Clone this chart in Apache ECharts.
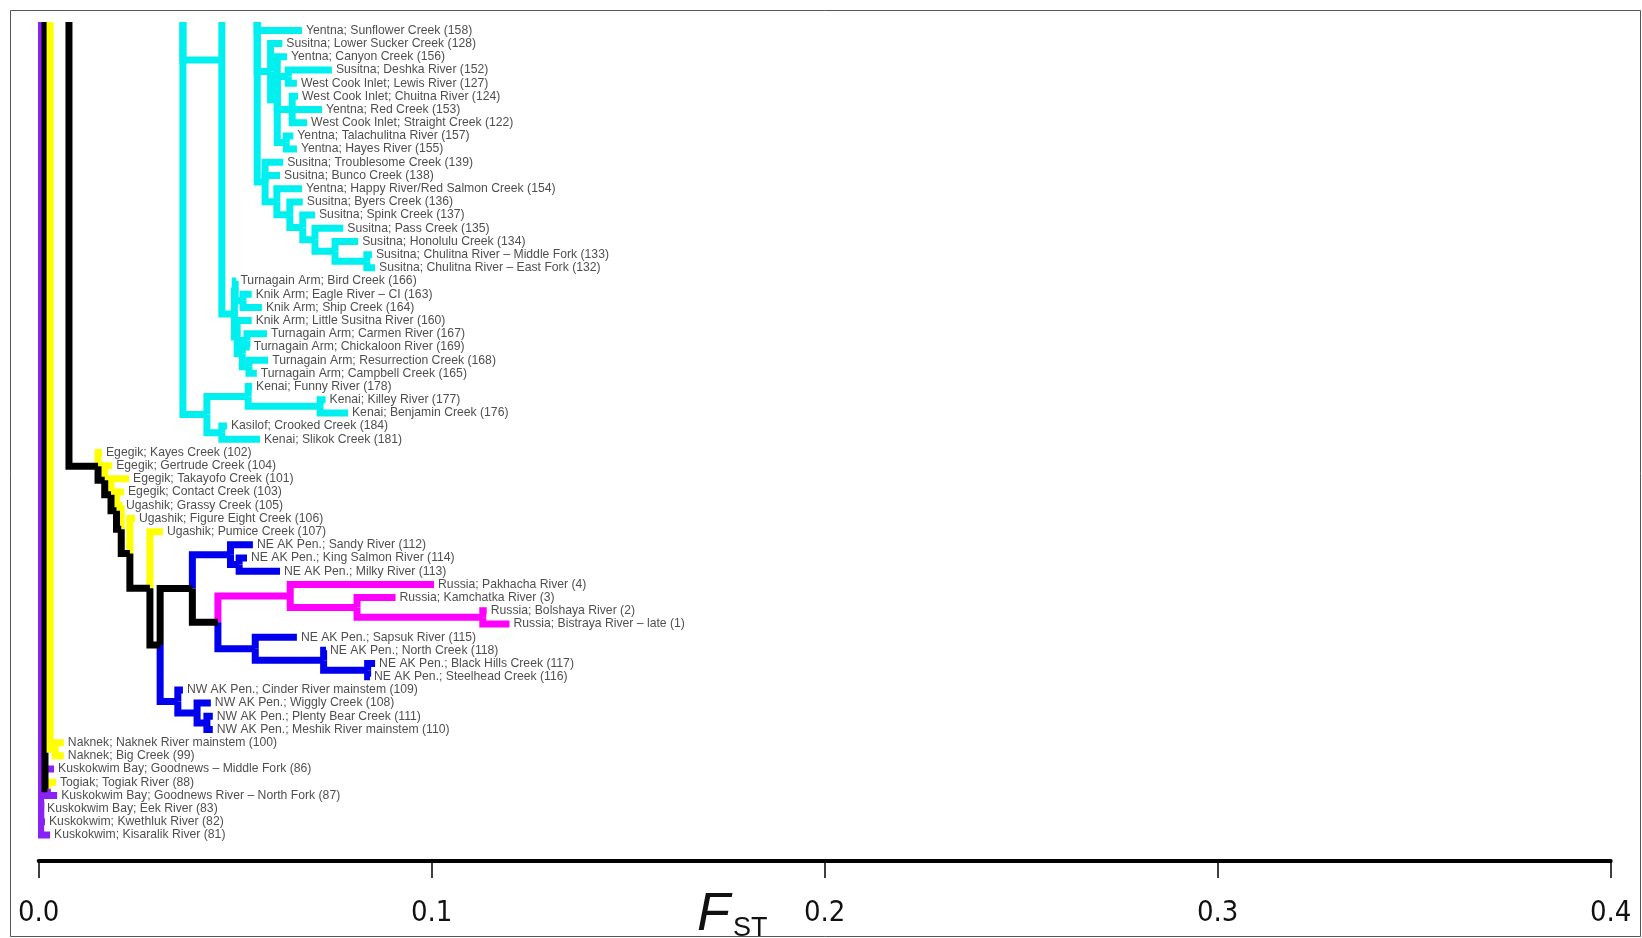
<!DOCTYPE html>
<html>
<head>
<meta charset="utf-8">
<script src="https://cdn.jsdelivr.net/npm/echarts@6/dist/echarts.min.js"></script>
<style>
  html, body { margin: 0; padding: 0; background: #fff; }
  #chart { width: 1642px; height: 938px; }
</style>
</head>
<body>
<div id="chart"></div>
<script>
// Populations, top to bottom
const leafNames = [
  'Yentna; Sunflower Creek (158)',
  'Susitna; Lower Sucker Creek (128)',
  'Yentna; Canyon Creek (156)',
  'Susitna; Deshka River (152)',
  'West Cook Inlet; Lewis River (127)',
  'West Cook Inlet; Chuitna River (124)',
  'Yentna; Red Creek (153)',
  'West Cook Inlet; Straight Creek (122)',
  'Yentna; Talachulitna River (157)',
  'Yentna; Hayes River (155)',
  'Susitna; Troublesome Creek (139)',
  'Susitna; Bunco Creek (138)',
  'Yentna; Happy River/Red Salmon Creek (154)',
  'Susitna; Byers Creek (136)',
  'Susitna; Spink Creek (137)',
  'Susitna; Pass Creek (135)',
  'Susitna; Honolulu Creek (134)',
  'Susitna; Chulitna River – Middle Fork (133)',
  'Susitna; Chulitna River – East Fork (132)',
  'Turnagain Arm; Bird Creek (166)',
  'Knik Arm; Eagle River – CI (163)',
  'Knik Arm; Ship Creek (164)',
  'Knik Arm; Little Susitna River (160)',
  'Turnagain Arm; Carmen River (167)',
  'Turnagain Arm; Chickaloon River (169)',
  'Turnagain Arm; Resurrection Creek (168)',
  'Turnagain Arm; Campbell Creek (165)',
  'Kenai; Funny River (178)',
  'Kenai; Killey River (177)',
  'Kenai; Benjamin Creek (176)',
  'Kasilof; Crooked Creek (184)',
  'Kenai; Slikok Creek (181)',
  'Egegik; Kayes Creek (102)',
  'Egegik; Gertrude Creek (104)',
  'Egegik; Takayofo Creek (101)',
  'Egegik; Contact Creek (103)',
  'Ugashik; Grassy Creek (105)',
  'Ugashik; Figure Eight Creek (106)',
  'Ugashik; Pumice Creek (107)',
  'NE AK Pen.; Sandy River (112)',
  'NE AK Pen.; King Salmon River (114)',
  'NE AK Pen.; Milky River (113)',
  'Russia; Pakhacha River (4)',
  'Russia; Kamchatka River (3)',
  'Russia; Bolshaya River (2)',
  'Russia; Bistraya River – late (1)',
  'NE AK Pen.; Sapsuk River (115)',
  'NE AK Pen.; North Creek (118)',
  'NE AK Pen.; Black Hills Creek (117)',
  'NE AK Pen.; Steelhead Creek (116)',
  'NW AK Pen.; Cinder River mainstem (109)',
  'NW AK Pen.; Wiggly Creek (108)',
  'NW AK Pen.; Plenty Bear Creek (111)',
  'NW AK Pen.; Meshik River mainstem (110)',
  'Naknek; Naknek River mainstem (100)',
  'Naknek; Big Creek (99)',
  'Kuskokwim Bay; Goodnews – Middle Fork (86)',
  'Togiak; Togiak River (88)',
  'Kuskokwim Bay; Goodnews River – North Fork (87)',
  'Kuskokwim Bay; Eek River (83)',
  'Kuskokwim; Kwethluk River (82)',
  'Kuskokwim; Kisaralik River (81)'
];

// Reporting region of each population: c Cook Inlet, y Bristol Bay,
// b Alaska Peninsula, m Russia, p Kuskokwim
const leafGroup = [
  'c','c','c','c','c','c','c','c','c','c','c','c','c','c','c','c',
  'c','c','c','c','c','c','c','c','c','c','c','c','c','c','c','c',
  'y','y','y','y','y','y','y',
  'b','b','b',
  'm','m','m','m',
  'b','b','b','b','b','b','b','b',
  'y','y',
  'p','y','p','p','p','p'
];

// Cumulative FST at each branch tip
const leafFst = [
  0.0670, 0.0620, 0.0632, 0.0746, 0.0657, 0.0660, 0.0721, 0.0683, 0.0648, 0.0657,
  0.0622, 0.0614, 0.0670, 0.0672, 0.0703, 0.0775, 0.0813, 0.0848, 0.0856,
  0.0503, 0.0542, 0.0568, 0.0542, 0.0581, 0.0537, 0.0584, 0.0555,
  0.0543, 0.0730, 0.0787, 0.0479, 0.0563,
  0.0161, 0.0187, 0.0230, 0.0217, 0.0212, 0.0245, 0.0316,
  0.0545, 0.0530, 0.0614,
  0.1006, 0.0908, 0.1140, 0.1198,
  0.0657, 0.0731, 0.0856, 0.0843,
  0.0367, 0.0438, 0.0443, 0.0443,
  0.0064, 0.0064,
  0.0039, 0.0044, 0.0047, 0.0011, 0.0016, 0.0029
];

// Clades as [node FST, child, child, ...]; a child is a population index,
// a nested clade, or a negative row = a branch to populations plotted above this panel.
const susitnaYentna = [0.0556, -30, 0,
  [0.0590, 1, [0.0607, 2, [0.0635, 3, 4], [0.0645, 5, 6, 7], [0.0630, 8, 9]]],
  [0.0576, 10, 11, [0.0606, 12, [0.0639, 13, [0.0672, 14, [0.0703, 15, [0.0754, 16, [0.0835, 17, 18]]]]]]]];
const turnagainKnik = [0.0498,
  [0.0500, 19, [0.0520, 20, 21]],
  [0.0505, 22, [0.0518, [0.0530, 23, 24], [0.0535, 25, 26]]]];
const kenaiKasilof = [0.0428, [0.0533, 27, [0.0716, 28, 29]], [0.0466, 30, 31]];
const cookInlet = [0.0367, -40, [0.0466, -17, turnagainKnik], kenaiKasilof];

const russia = [0.0640, 42, [0.0810, 43, [0.1130, 44, 45]]];
const nePenUpper = [0.0488, 39, [0.0510, 40, 41]];
const nePenLower = [0.0551, 46, [0.0725, 47, [0.0837, 48, 49]]];
const nwPen = [0.0354, 50, [0.0403, 51, [0.0428, 52, 53]]];
const peninsula = [0.0309, [0.0391, nePenUpper, [0.0456, russia, nePenLower]], nwPen];
const egegikUgashik = [0.0151, 32, [0.0168, 33, [0.0184, 34, [0.0198, 35,
  [0.0210, 36, [0.0232, 37, [0.0283, 38, peninsula]]]]]]];

const naknek = [0.0042, 54, 55];
const togiakGoodnews = [0.0022, 57, 58];
const kuskokwim = [0.0005, 56, 59, 60, 61];

// Branches entering this panel from above: [FST of the ancestral node, clade]
const stems = [
  [0.0003, kuskokwim],
  [0.0016, togiakGoodnews],
  [0.0029, naknek],
  [0.0077, egegikUgashik]
];
const freeClades = [cookInlet, susitnaYentna];

const tickLabels = ['0.0', '0.1', '0.2', '0.3', '0.4'];

const groupKeys = ['c', 'y', 'b', 'm', 'p', 'x'];
const groupColors = ['#00F0F0', '#FFFF00', '#0000EE', '#FF00FF', '#8B22F5', '#000000'];

// ---- layout: rows for tips, midpoints for internal nodes; one elbow per branch
const edges = [];
function place(node) {
  if (typeof node === 'number') {
    return { fst: leafFst[node], row: node, group: leafGroup[node] };
  }
  const fst = node[0];
  const kids = node.slice(1).map(k =>
    (typeof k === 'number' && k < 0) ? { off: true, fst: fst, row: k } : place(k));
  const seen = new Set(kids.filter(k => !k.off).map(k => k.group));
  const group = seen.size === 1 ? [...seen][0] : 'x';
  const row = (kids[0].row + kids[kids.length - 1].row) / 2;
  kids.forEach(k => edges.push([fst, row, k.fst, k.row, groupKeys.indexOf(k.off ? group : k.group)]));
  return { fst, row, group };
}
const ABOVE = -6;
freeClades.forEach(c => place(c));
stems.forEach(([f, clade]) => {
  const p = place(clade);
  edges.push([f, ABOVE, p.fst, p.row, groupKeys.indexOf(p.group)]);
});

const chart = echarts.init(document.getElementById('chart'), null, { renderer: 'canvas' });
chart.setOption({
  animation: false,
  backgroundColor: '#ffffff',
  grid: { left: 38.7, right: 31.3, top: 22, bottom: 77, containLabel: false, outerBoundsMode: 'none' },
  xAxis: {
    type: 'value', min: 0, max: 0.4, interval: 0.1,
    axisLine: { show: true, onZero: false, lineStyle: { color: '#000', width: 4 } },
    axisTick: { show: true, length: 17, lineStyle: { color: '#000', width: 1.5 } },
    axisLabel: {
      margin: 38, fontSize: 29, color: '#111',
      fontFamily: '"Liberation Sans Narrow", "DejaVu Sans Condensed", "Liberation Sans", Arial, sans-serif',
      formatter: v => tickLabels[Math.round(v * 10)]
    },
    splitLine: { show: false }
  },
  yAxis: { type: 'value', inverse: true, min: -0.637, max: 62.97, show: false },
  graphic: [
    { type: 'rect', silent: true, shape: { x: 10.5, y: 10.5, width: 1630, height: 926 },
      style: { fill: null, stroke: '#555', lineWidth: 1 } },
    { type: 'text', silent: true, x: 697, y: 888,
      style: { text: 'F', font: 'italic 54px "Liberation Sans", Arial, sans-serif', fill: '#111', verticalAlign: 'top', align: 'left' } },
    { type: 'text', silent: true, x: 733, y: 915,
      style: { text: 'ST', font: '27px "Liberation Sans", Arial, sans-serif', fill: '#111', verticalAlign: 'top', align: 'left' } }
  ],
  series: [
    {
      type: 'custom',
      clip: true,
      silent: true,
      data: edges,
      renderItem: (params, api) => {
        const a = api.coord([api.value(0), api.value(1)]);
        const b = api.coord([api.value(0), api.value(3)]);
        const c = api.coord([api.value(2), api.value(3)]);
        return {
          type: 'polyline',
          shape: { points: [a, b, c] },
          style: { stroke: groupColors[api.value(4)], lineWidth: 7, fill: null, lineJoin: 'miter', lineCap: 'butt' }
        };
      }
    },
    {
      type: 'scatter',
      silent: true,
      symbolSize: 0,
      itemStyle: { color: 'rgba(0,0,0,0)' },
      data: leafFst.map((f, i) => [f, i]),
      label: {
        show: true, position: 'right', distance: 4,
        fontSize: 12.2, color: '#222',
        fontFamily: '"Liberation Sans", Arial, sans-serif',
        formatter: p => leafNames[p.dataIndex]
      },
      labelLayout: { hideOverlap: false }
    }
  ]
});
</script>
</body>
</html>
